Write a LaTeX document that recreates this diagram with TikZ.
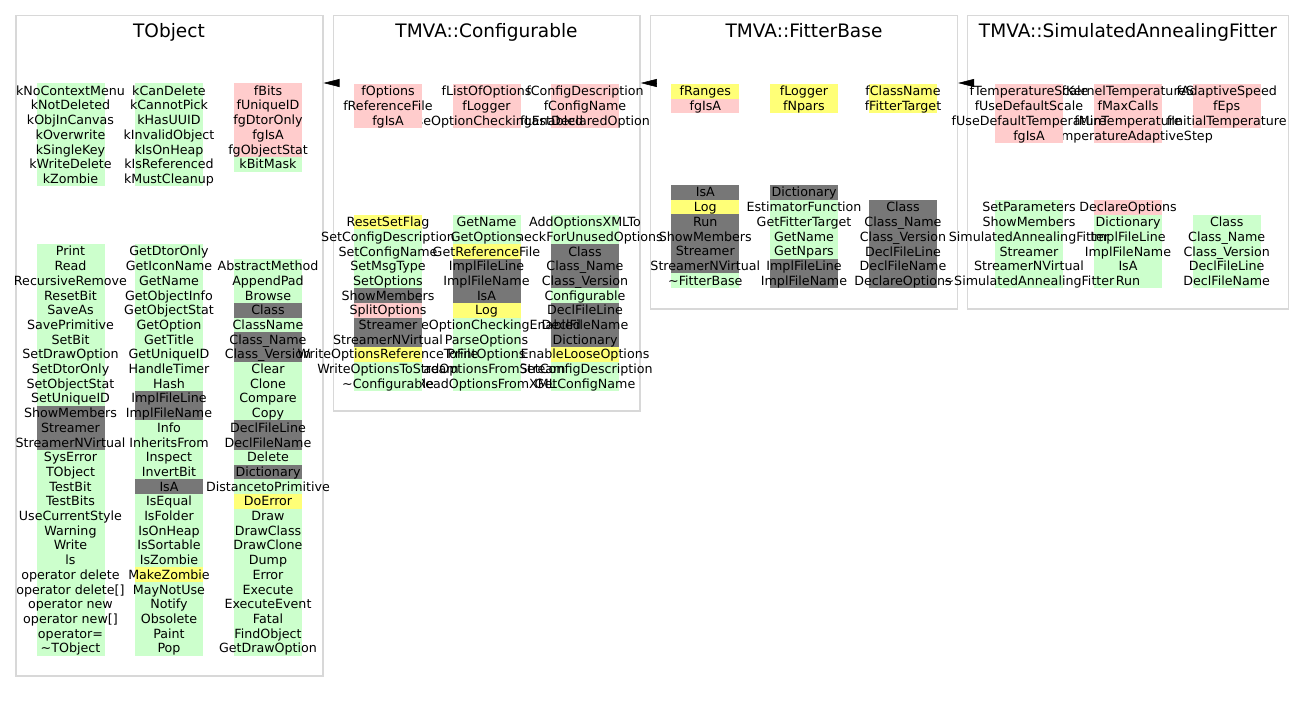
\documentclass[tikz,border=0pt]{standalone}
\usepackage{fontspec}
\setmainfont{DejaVu Sans}
\usepackage{tikz}
\usetikzlibrary{arrows.meta,fit}
\definecolor{pub}{RGB}{204,255,204}
\definecolor{prot}{RGB}{255,255,119}
\definecolor{priv}{RGB}{255,204,204}
\definecolor{gen}{RGB}{119,119,119}
\definecolor{boxline}{RGB}{216,216,216}

% one column of members, rows 14.7px apart
\newcommand{\membercol}[4]{%
  \foreach \kind/\memb [count=\i] in {#4}
    \node[member, fill=\kind] (#1-\i) at (#2,{#3+(\i-0.5)*14.7}) {\makebox[51pt]{\memb}};%
}

\begin{document}
\begin{tikzpicture}[x=0.75pt,y=-0.75pt,
    classbox/.style={draw=boxline, line width=1.2pt, inner sep=0pt},
    classname/.style={anchor=base, font=\fontsize{13.9}{16}\selectfont},
    member/.style={inner sep=0pt, minimum height=11.025pt, text height=6.9pt, text depth=0pt,
      font=\fontsize{9.5}{11}\selectfont},
    inherit/.style={-{Triangle[length=12pt,width=6pt]}}]
    \useasboundingbox (0,0) rectangle (1304,703);
    \fill[white] (0,0) rectangle (1304,703);

    % The class frames
    \node[classbox, fit={(15.7,15.3) (322.7,676)}] (tobj) {};
    \node[classbox, fit={(333.3,15.3) (640,411)}] (conf) {};
    \node[classbox, fit={(650.3,15.3) (957.3,309)}] (fbase) {};
    \node[classbox, fit={(967.3,15.3) (1288.3,309)}] (simann) {};

    \node[classname] (tobj-name) at (169,37.3) {TObject};
    \node[classname] (conf-name) at (486.5,37.3) {TMVA::Configurable};
    \node[classname] (fbase-name) at (804,37.3) {TMVA::FitterBase};
    \node[classname] (simann-name) at (1128,37.3) {TMVA::SimulatedAnnealingFitter};

    % Inheritance
    \coordinate (arrowy) at (0,83);
    \draw[inherit] (conf.west |- arrowy) -- (tobj.east |- arrowy);
    \draw[inherit] (fbase.west |- arrowy) -- (conf.east |- arrowy);
    \draw[inherit] (simann.west |- arrowy) -- (fbase.east |- arrowy);

    % TObject (columns right to left)
    \membercol{tobj-dc}{268}{83.3}{priv/fBits, priv/fUniqueID, priv/fgDtorOnly, priv/fgIsA,
      priv/fgObjectStat, pub/kBitMask}
    \membercol{tobj-db}{169}{83.3}{pub/kCanDelete, pub/kCannotPick, pub/kHasUUID,
      pub/kInvalidObject, pub/kIsOnHeap, pub/kIsReferenced, pub/kMustCleanup}
    \membercol{tobj-da}{70.5}{83.3}{pub/kNoContextMenu, pub/kNotDeleted, pub/kObjInCanvas,
      pub/kOverwrite, pub/kSingleKey, pub/kWriteDelete, pub/kZombie}
    \membercol{tobj-fc}{268}{258.7}{pub/AbstractMethod, pub/AppendPad, pub/Browse, gen/Class,
      pub/ClassName, gen/Class\_Name, gen/Class\_Version, pub/Clear, pub/Clone, pub/Compare,
      pub/Copy, gen/DeclFileLine, gen/DeclFileName, pub/Delete, gen/Dictionary,
      pub/DistancetoPrimitive, prot/DoError, pub/Draw, pub/DrawClass, pub/DrawClone, pub/Dump,
      pub/Error, pub/Execute, pub/ExecuteEvent, pub/Fatal, pub/FindObject, pub/GetDrawOption}
    \membercol{tobj-fb}{169}{244}{pub/GetDtorOnly, pub/GetIconName, pub/GetName,
      pub/GetObjectInfo, pub/GetObjectStat, pub/GetOption, pub/GetTitle, pub/GetUniqueID,
      pub/HandleTimer, pub/Hash, gen/ImplFileLine, gen/ImplFileName, pub/Info, pub/InheritsFrom,
      pub/Inspect, pub/InvertBit, gen/IsA, pub/IsEqual, pub/IsFolder, pub/IsOnHeap,
      pub/IsSortable, pub/IsZombie, prot/MakeZombie, pub/MayNotUse, pub/Notify, pub/Obsolete,
      pub/Paint, pub/Pop}
    \membercol{tobj-fa}{70.5}{244}{pub/Print, pub/Read, pub/RecursiveRemove, pub/ResetBit,
      pub/SaveAs, pub/SavePrimitive, pub/SetBit, pub/SetDrawOption, pub/SetDtorOnly,
      pub/SetObjectStat, pub/SetUniqueID, gen/ShowMembers, gen/Streamer, gen/StreamerNVirtual,
      pub/SysError, pub/TObject, pub/TestBit, pub/TestBits, pub/UseCurrentStyle, pub/Warning,
      pub/Write, pub/ls, pub/operator delete, pub/operator delete[], pub/operator new,
      pub/operator new[], pub/operator=, pub/\textasciitilde TObject}

    % TMVA::Configurable
    \membercol{conf-dc}{585}{84}{priv/fConfigDescription, priv/fConfigName,
      priv/fLastDeclaredOption}
    \membercol{conf-db}{486.5}{84}{priv/fListOfOptions, priv/fLogger,
      priv/fLooseOptionCheckingEnabled}
    \membercol{conf-da}{388}{84}{priv/fOptions, priv/fReferenceFile, priv/fgIsA}
    \membercol{conf-fc}{585}{214.7}{pub/AddOptionsXMLTo, pub/CheckForUnusedOptions, gen/Class,
      gen/Class\_Name, gen/Class\_Version, pub/Configurable, gen/DeclFileLine, gen/DeclFileName,
      gen/Dictionary, prot/EnableLooseOptions, pub/GetConfigDescription, pub/GetConfigName}
    \membercol{conf-fb}{486.5}{214.7}{pub/GetName, pub/GetOptions, prot/GetReferenceFile,
      gen/ImplFileLine, gen/ImplFileName, gen/IsA, prot/Log, pub/LooseOptionCheckingEnabled,
      pub/ParseOptions, pub/PrintOptions, pub/ReadOptionsFromStream, pub/ReadOptionsFromXML}
    \membercol{conf-fa}{388}{214.7}{prot/ResetSetFlag, pub/SetConfigDescription,
      pub/SetConfigName, pub/SetMsgType, pub/SetOptions, gen/ShowMembers, priv/SplitOptions,
      gen/Streamer, gen/StreamerNVirtual, prot/WriteOptionsReferenceToFile,
      pub/WriteOptionsToStream, pub/\textasciitilde Configurable}

    % TMVA::FitterBase
    \membercol{fbase-dc}{903}{84}{prot/fClassName, prot/fFitterTarget}
    \membercol{fbase-db}{804}{84}{prot/fLogger, prot/fNpars}
    \membercol{fbase-da}{705.3}{84}{prot/fRanges, priv/fgIsA}
    \membercol{fbase-fc}{903}{200}{gen/Class, gen/Class\_Name, gen/Class\_Version,
      gen/DeclFileLine, gen/DeclFileName, gen/DeclareOptions}
    \membercol{fbase-fb}{804}{185}{gen/Dictionary, pub/EstimatorFunction, pub/GetFitterTarget,
      pub/GetName, pub/GetNpars, gen/ImplFileLine, gen/ImplFileName}
    \membercol{fbase-fa}{705.3}{185}{gen/IsA, prot/Log, gen/Run, gen/ShowMembers, gen/Streamer,
      gen/StreamerNVirtual, pub/\textasciitilde FitterBase}

    % TMVA::SimulatedAnnealingFitter
    \membercol{simann-dc}{1226.7}{84}{priv/fAdaptiveSpeed, priv/fEps, priv/fInitialTemperature}
    \membercol{simann-db}{1128}{84}{priv/fKernelTemperatureS, priv/fMaxCalls,
      priv/fMinTemperature, priv/fTemperatureAdaptiveStep}
    \membercol{simann-da}{1029}{84}{priv/fTemperatureScale, priv/fUseDefaultScale,
      priv/fUseDefaultTemperature, priv/fgIsA}
    \membercol{simann-fc}{1226.7}{214.7}{pub/Class, pub/Class\_Name, pub/Class\_Version,
      pub/DeclFileLine, pub/DeclFileName}
    \membercol{simann-fb}{1128}{200}{priv/DeclareOptions, pub/Dictionary, pub/ImplFileLine,
      pub/ImplFileName, pub/IsA, pub/Run}
    \membercol{simann-fa}{1029}{200}{pub/SetParameters, pub/ShowMembers,
      pub/SimulatedAnnealingFitter, pub/Streamer, pub/StreamerNVirtual,
      pub/\textasciitilde SimulatedAnnealingFitter}
  \end{tikzpicture}
\end{document}
